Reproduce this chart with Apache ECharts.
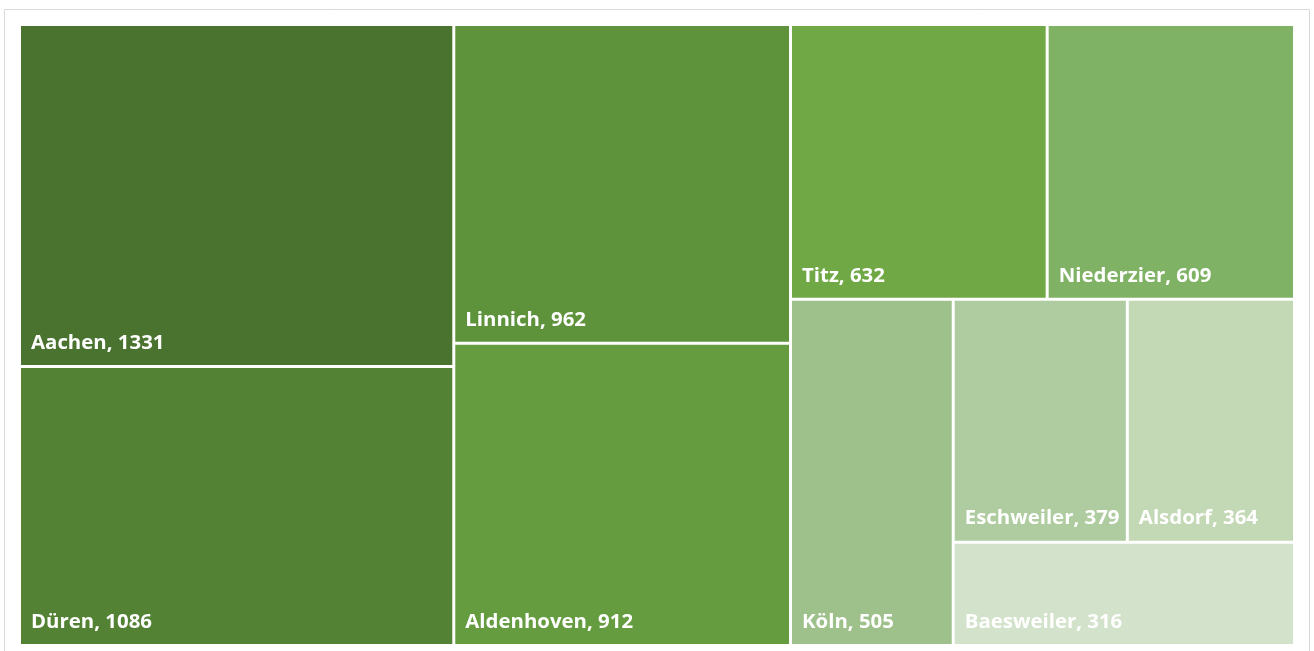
<!DOCTYPE html>
<html>
<head>
<meta charset="utf-8">
<script src="https://cdn.jsdelivr.net/npm/echarts@6/dist/echarts.min.js"></script>
<style>
html,body{margin:0;padding:0;background:#fff;}
#chart{width:1314px;height:651px;}
</style>
</head>
<body>
<div id="chart"></div>
<script>
const categories = ['Aachen', 'Düren', 'Linnich', 'Aldenhoven', 'Titz', 'Niederzier', 'Köln', 'Eschweiler', 'Alsdorf', 'Baesweiler'];
const values = [1331, 1086, 962, 912, 632, 609, 505, 379, 364, 316];
const colors = ['#49732f', '#548235', '#5e933c', '#659c40', '#6fa845', '#80b265', '#9ec08a', '#aecc9f', '#c3d8b5', '#d3e2ca'];

const data = categories.map((name, i) => ({
  name: name,
  value: values[i],
  itemStyle: { color: colors[i] }
}));

const chart = echarts.init(document.getElementById('chart'));
chart.setOption({
  animation: false,
  graphic: [{
    type: 'rect',
    shape: { x: 4.5, y: 9.5, width: 1305, height: 660 },
    style: { fill: 'none', stroke: '#d9d9d9', lineWidth: 1 },
    silent: true
  }],
  series: [{
    type: 'treemap',
    left: 21,
    top: 26,
    width: 1272,
    height: 618,
    squareRatio: 0.86,
    roam: false,
    nodeClick: false,
    breadcrumb: { show: false },
    sort: 'desc',
    levels: [
      { itemStyle: { gapWidth: 3, borderWidth: 0, borderColor: '#fff' } },
      { itemStyle: { borderWidth: 0, gapWidth: 0 } }
    ],
    label: {
      show: true,
      position: 'insideBottomLeft',
      distance: 5,
      color: '#ffffff',
      fontFamily: 'Open Sans',
      fontWeight: 'bold',
      fontSize: 20.4,
      lineHeight: 24,
      formatter: p => p.name + ', ' + p.value
    },
    data: data
  }]
});
</script>
</body>
</html>
